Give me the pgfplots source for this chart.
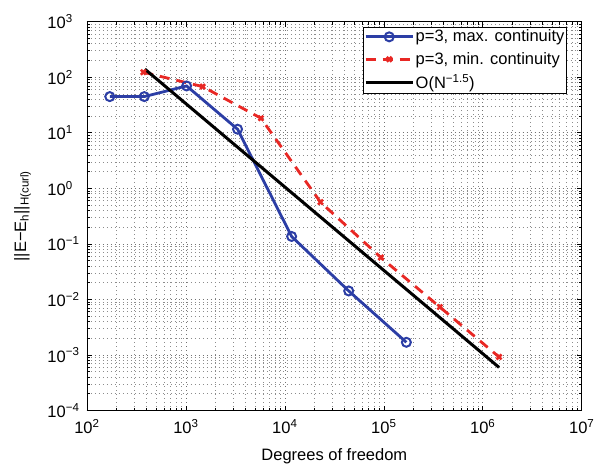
\documentclass[border=0pt]{standalone}
\usepackage{fontspec}
\setmainfont{Liberation Sans}
\usepackage{pgfplots}
\pgfplotsset{compat=1.18}
\definecolor{mblue}{RGB}{44,62,165}
\definecolor{mred}{RGB}{232,40,36}
\begin{document}
\fontsize{16.5}{19}\selectfont
\begin{tikzpicture}
\begin{loglogaxis}[
  scale only axis, width=495pt, height=389pt,
  xmin=1e2, xmax=1e7, ymin=1e-4, ymax=1e3,
  xtick={1e2,1e3,1e4,1e5,1e6,1e7},
  xticklabels={10\textsuperscript{2},10\textsuperscript{3},10\textsuperscript{4},10\textsuperscript{5},10\textsuperscript{6},10\textsuperscript{7}},
  ytick={1e-4,1e-3,1e-2,1e-1,1,1e1,1e2,1e3},
  yticklabels={10\rlap{\textsuperscript{−4}},10\rlap{\textsuperscript{−3}},10\rlap{\textsuperscript{−2}},10\rlap{\textsuperscript{−1}},10\rlap{\textsuperscript{0}},10\rlap{\textsuperscript{1}},10\rlap{\textsuperscript{2}},10\rlap{\textsuperscript{3}}},
  yticklabel style={anchor=east, inner sep=0pt, xshift=-21pt},
  xticklabel style={yshift=-3pt},
  grid=both,
  major grid style={dash pattern=on 0.6pt off 3.4pt, line width=0.6pt, black!55},
  minor grid style={dash pattern=on 0.6pt off 3.4pt, line width=0.6pt, black!45},
  tick align=inside,
  major tick length=5pt, minor tick length=3pt,
  axis line style={line width=0.8pt},
  every tick/.style={black, line width=0.6pt},
  xlabel={Degrees of freedom},
  ylabel={||E−E\textsubscript{h}||\textsubscript{H(curl)}},
  xlabel style={at={(axis description cs:0.5,-0.117)}, anchor=center},
  ylabel style={at={(axis description cs:-0.13,0.5)}, anchor=center},
  legend cell align=left,
  legend style={at={(0.97,0.986)}, anchor=north east, draw=black, line width=0.8pt,
    fill=white, row sep=5pt, inner sep=1pt, outer sep=0pt, nodes={inner sep=1.5pt},
    font=\fontsize{16.5}{19}\selectfont},
  legend image code/.code={\draw[#1, mark=none] (0pt,0pt) -- (47pt,0pt);
    \draw[#1, only marks] plot coordinates {(23.5pt,0pt)};},
]
\addplot[mblue, line width=2.8pt, mark=o, mark size=4.5pt, mark options={solid, line width=2pt}]
coordinates {(170,44.8) (380,44.8) (1016,69.7) (3325,11.6) (11700,0.136) (44200,0.0142) (169000,0.00169)};
\addlegendentry{p=3, max. continuity}
\addplot[mred, line width=2.8pt, dash pattern=on 10pt off 7pt, mark=x, mark size=3.5pt, mark options={solid, line width=2.5pt}]
coordinates {(371,123) (1476,67.8) (5730,18.3) (22900,0.565) (93300,0.0569) (368000,0.0073) (1460000,0.00092)};
\addlegendentry{p=3, min. continuity}
\addplot[black, line width=3pt] coordinates {(385,140) (1460000,0.000597)};
\addlegendentry{O(N\textsuperscript{−1.5})}
\end{loglogaxis}
\pgfresetboundingbox
\path ([shift={(-87pt,-59.3pt)}]current axis.south west) rectangle ([shift={(13.3pt,21.7pt)}]current axis.north east);
\end{tikzpicture}
\end{document}
